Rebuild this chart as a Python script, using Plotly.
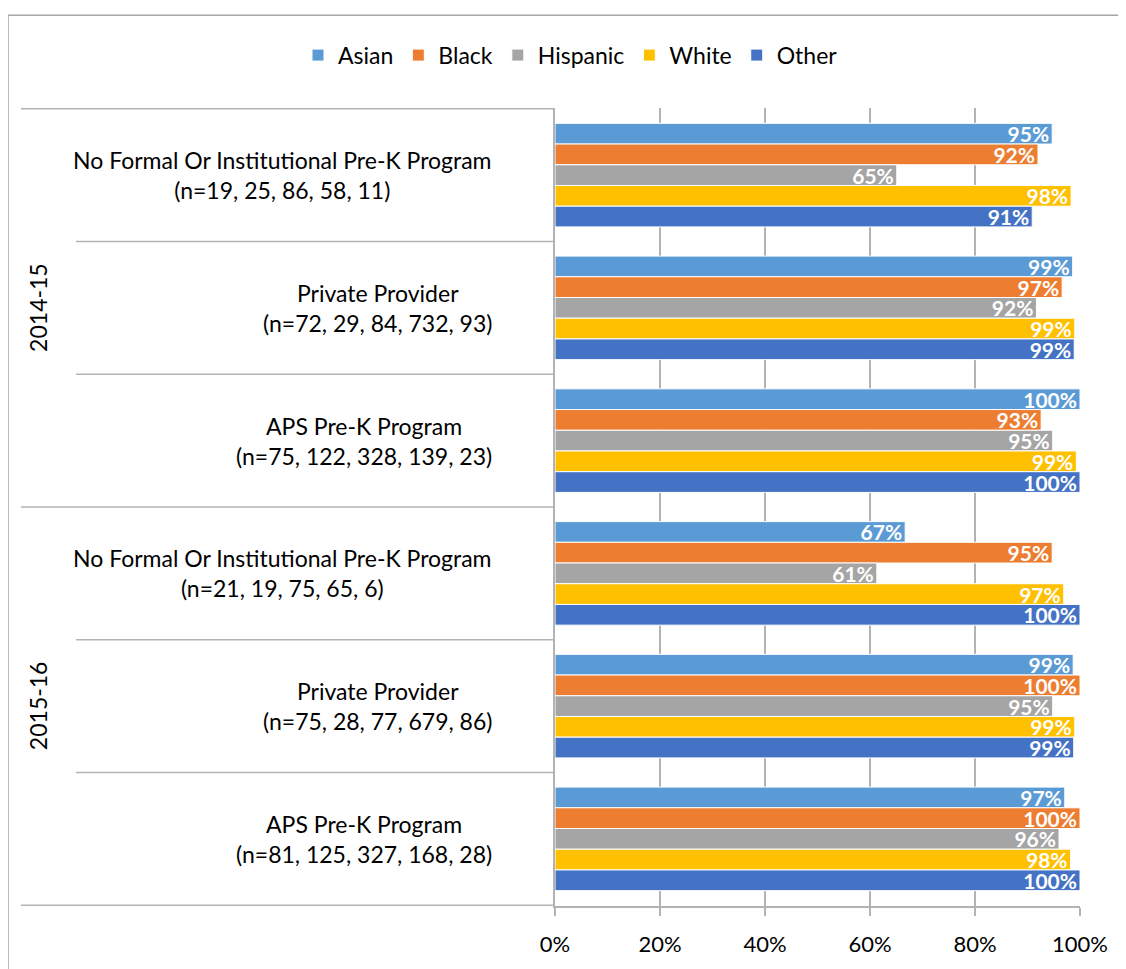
import plotly.graph_objects as go

# ---- data ----
years = ["2014-15", "2014-15", "2014-15", "2015-16", "2015-16", "2015-16"]
programs = [
    "No Formal Or Institutional Pre-K Program",
    "Private Provider",
    "APS Pre-K Program",
    "No Formal Or Institutional Pre-K Program",
    "Private Provider",
    "APS Pre-K Program",
]
n_labels = [
    "(n=19, 25, 86, 58, 11)",
    "(n=72, 29, 84, 732, 93)",
    "(n=75, 122, 328, 139, 23)",
    "(n=21, 19, 75, 65, 6)",
    "(n=75, 28, 77, 679, 86)",
    "(n=81, 125, 327, 168, 28)",
]
series_names = ["Asian", "Black", "Hispanic", "White", "Other"]
asian = [94.7, 98.6, 100.0, 66.7, 98.7, 97.1]
black = [92.0, 96.6, 92.6, 94.7, 100.0, 100.0]
hispanic = [65.1, 91.7, 94.8, 61.3, 94.8, 96.0]
white = [98.3, 99.0, 99.3, 96.9, 99.0, 98.2]
other = [90.9, 98.9, 100.0, 100.0, 98.8, 100.0]
x_ticks = [0, 20, 40, 60, 80, 100]
x_tick_labels = ["0%", "20%", "40%", "60%", "80%", "100%"]

# ---- styles ----
colors = ["#5B9BD5", "#ED7D31", "#A5A5A5", "#FFC000", "#4472C4"]
FONT = "Lato, 'Open Sans', sans-serif"
GRID = "#B3B3B3"

OFF = 8  # page body margin
W, H = 1126 - OFF, 969 - OFF
ML, MT = 555 - OFF, 108 - OFF
MR = W - (1080 - OFF)
MB = H - (908 - OFF)
PW = W - ML - MR
PH = H - MT - MB

def px_x(px):
    return (px - OFF - ML) / PW

def px_y(py):
    return 1 - (py - OFF - MT) / PH

cats = [f"{y}|{p}|{i}" for i, (y, p) in enumerate(zip(years, programs))]

fig = go.Figure()
for name, vals, col in zip(series_names, [asian, black, hispanic, white, other], colors):
    fig.add_trace(go.Bar(
        name=name, y=cats, x=vals, orientation="h",
        marker=dict(color=col, line=dict(color="white", width=1)),
        texttemplate="%{x:.0f}%", textposition="inside", insidetextanchor="end",
        textfont=dict(color="white", size=21, family=FONT, weight="bold"),
        constraintext="none", cliponaxis=False,
    ))

annotations = []
for i, (p, n) in enumerate(zip(programs, n_labels)):
    annotations.append(dict(
        x=px_x(494), xref="paper", y=cats[i], yref="y",
        text=f"{p}<br>{n}", showarrow=False, xanchor="right", align="center",
        font=dict(size=23, family=FONT, color="black"),
    ))
for yr, idxs in [("2014-15", (0, 2)), ("2015-16", (3, 5))]:
    annotations.append(dict(
        x=px_x(38), xref="paper", y=(idxs[0] + idxs[1]) / 2, yref="y",
        text=yr, showarrow=False, textangle=-90, xanchor="center", yanchor="middle",
        font=dict(size=23, family=FONT, color="black"),
    ))

shapes = []
for b in [-0.5, 0.5, 1.5, 2.5, 3.5, 4.5, 5.5]:
    x0 = px_x(21) if b in (-0.5, 2.5, 5.5) else px_x(76)
    shapes.append(dict(type="line", xref="paper", yref="y", x0=x0, x1=0, y0=b, y1=b,
                       line=dict(color=GRID, width=1.5)))
shapes.append(dict(type="rect", xref="paper", yref="paper",
                   x0=px_x(8), x1=px_x(1200), y0=px_y(1000), y1=px_y(15),
                   line=dict(color="#A6A6A6", width=1.5), layer="below"))

fig.update_layout(
    width=W, height=H,
    margin=dict(l=ML, r=MR, t=MT, b=MB),
    paper_bgcolor="white", plot_bgcolor="white",
    barmode="group", bargap=0.22, bargroupgap=0,
    font=dict(family=FONT, size=22, color="black"),
    legend=dict(orientation="h", x=px_x(298), xanchor="left",
                y=px_y(55), yanchor="middle",
                font=dict(size=23, family=FONT), traceorder="normal", itemwidth=30),
    xaxis=dict(range=[0, 100], tickvals=x_ticks, ticktext=x_tick_labels, showgrid=True,
               gridcolor=GRID, gridwidth=1.5, zeroline=False, showline=True,
               linecolor=GRID, linewidth=1.5, ticks="outside", ticklen=8,
               tickcolor=GRID, tickwidth=1.5, ticklabelstandoff=10,
               tickfont=dict(size=22, family=FONT)),
    yaxis=dict(type="category", categoryorder="array", categoryarray=cats,
               autorange="reversed", showticklabels=False, showgrid=False,
               zeroline=False, showline=True, linecolor=GRID, linewidth=1.5, ticks=""),
    annotations=annotations, shapes=shapes,
)

fig.write_html("out.html")
